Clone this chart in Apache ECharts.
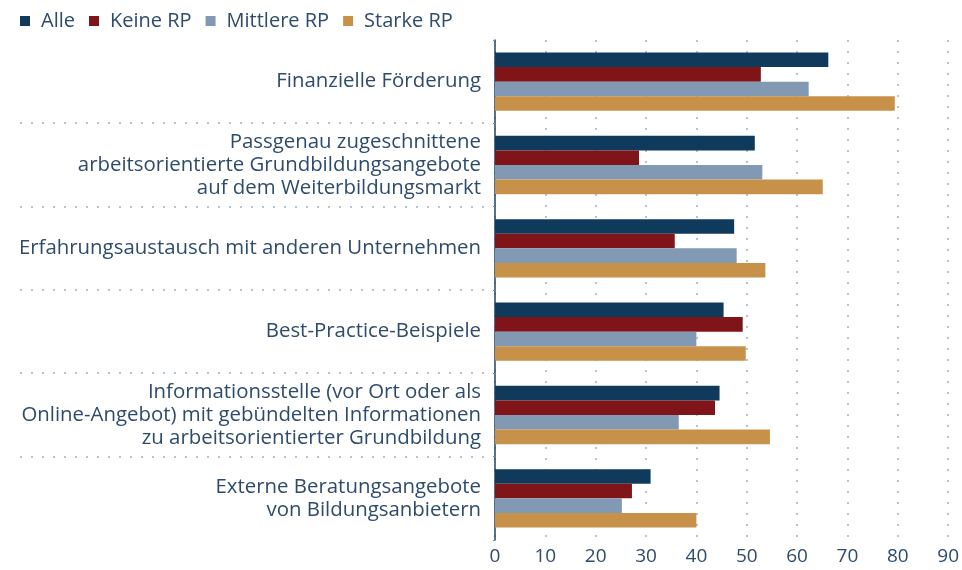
<!DOCTYPE html>
<html>
<head>
<meta charset="utf-8">
<script src="https://cdn.jsdelivr.net/npm/echarts@6/dist/echarts.min.js"></script>
<style>
  html, body { margin: 0; padding: 0; background: #fff; }
  #chart { width: 962px; height: 570px; }
</style>
</head>
<body>
<div id="chart"></div>
<script>
// Kategorien (von oben nach unten)
const categories = [
  'Finanzielle Förderung',
  'Passgenau zugeschnittene\narbeitsorientierte Grundbildungsangebote\nauf dem Weiterbildungsmarkt',
  'Erfahrungsaustausch mit anderen Unternehmen',
  'Best-Practice-Beispiele',
  'Informationsstelle (vor Ort oder als\nOnline-Angebot) mit gebündelten Informationen\nzu arbeitsorientierter Grundbildung',
  'Externe Beratungsangebote\nvon Bildungsanbietern'
];
const seriesNames = ['Alle', 'Keine RP', 'Mittlere RP', 'Starke RP'];
const alle     = [66.2, 51.6, 47.5, 45.4, 44.6, 30.9];
const keineRP  = [52.8, 28.6, 35.7, 49.2, 43.7, 27.2];
const mittlere = [62.3, 53.1, 48.0, 40.0, 36.5, 25.2];
const starke   = [79.4, 65.1, 53.7, 49.8, 54.6, 40.0];
const xTicks = [0, 10, 20, 30, 40, 50, 60, 70, 80, 90];

const colors = ['#0f3a5c', '#7f1518', '#8299b3', '#c8914a'];
const textColor = '#2e4b6c';
const font = 'Open Sans';

const chart = echarts.init(document.getElementById('chart'));

const values = [alle, keineRP, mittlere, starke];

chart.setOption({
  animation: false,
  color: colors,
  textStyle: { fontFamily: font },
  legend: {
    left: 15,
    top: 6,
    itemWidth: 10,
    itemHeight: 10,
    itemGap: 14,
    icon: 'rect',
    textStyle: {
      color: textColor, fontSize: 20, fontFamily: font, padding: [0, 0, 0, 6]
    },
    data: seriesNames
  },
  grid: { left: 495, right: 10, top: 40, bottom: 30, containLabel: false },
  xAxis: {
    type: 'value',
    min: xTicks[0],
    max: xTicks[xTicks.length - 1],
    interval: 10,
    axisLine: { show: false },
    axisTick: { show: false },
    axisLabel: { color: textColor, fontSize: 19, margin: 7 },
    splitLine: { lineStyle: { color: '#9fb1c6', type: [2, 9], width: 1.5 } }
  },
  yAxis: {
    type: 'category',
    inverse: true,
    data: categories,
    axisLine: { lineStyle: { color: '#1f4566', width: 1.5 } },
    axisTick: { show: true, length: 2, lineStyle: { color: '#7d93ab' } },
    axisLabel: {
      color: textColor, fontSize: 20.4, lineHeight: 23, margin: 14, align: 'right'
    }
  },
  series: seriesNames.map((name, i) => ({
    name: name,
    type: 'bar',
    data: values[i],
    barGap: '0%',
    barCategoryGap: '30%',
    itemStyle: { color: colors[i] }
  }))
});

// gepunktete Trennlinien zwischen den Kategorien im Beschriftungsbereich
const lines = [];
for (let i = 1; i < categories.length; i++) {
  const yA = chart.convertToPixel({ yAxisIndex: 0 }, i - 1);
  const yB = chart.convertToPixel({ yAxisIndex: 0 }, i);
  const y = Math.round((yA + yB) / 2);
  lines.push({
    type: 'line',
    shape: { x1: 20, y1: y, x2: 492, y2: y },
    style: { stroke: '#9fb1c6', lineWidth: 1.5, lineDash: [2, 9] },
    silent: true
  });
}
chart.setOption({ graphic: lines });
</script>
</body>
</html>
